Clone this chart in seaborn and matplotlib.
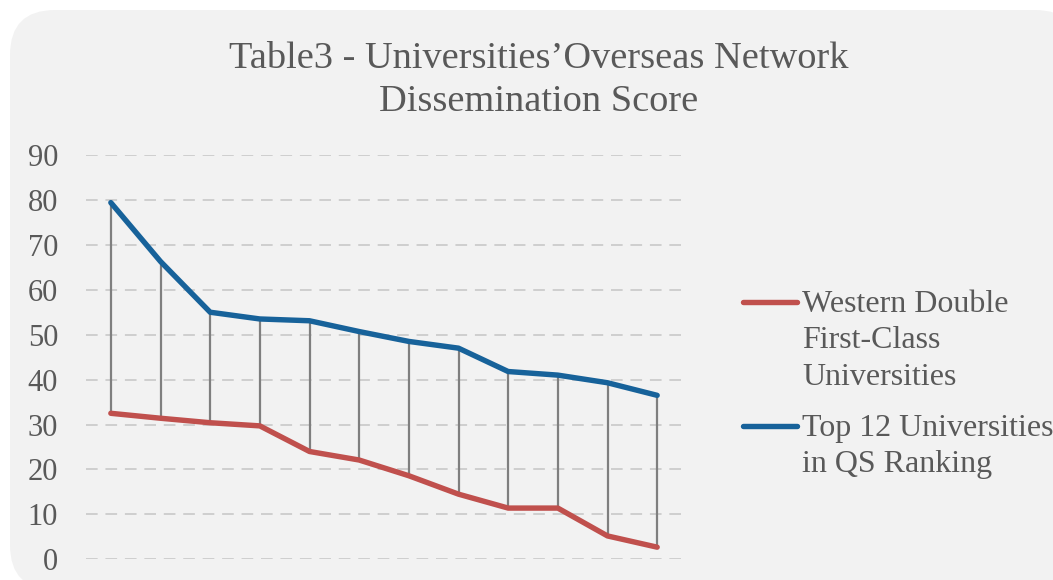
import numpy as np
import pandas as pd
import seaborn as sns
import matplotlib
matplotlib.use("Agg")
import matplotlib.pyplot as plt
from matplotlib.patches import FancyBboxPatch
from matplotlib.lines import Line2D
from matplotlib.transforms import IdentityTransform

# ---- data ----
ranks = list(range(1, 13))
western_double_first_class = [32.5, 31.4, 30.4, 29.7, 24.0, 22.1, 18.6, 14.5, 11.4, 11.4, 5.2, 2.7]
top12_qs = [79.4, 66.3, 55.0, 53.5, 53.1, 50.7, 48.5, 47.0, 41.8, 41.0, 39.3, 36.5]
series_names = ["Western Double\nFirst-Class\nUniversities", "Top 12 Universities\nin QS Ranking"]
y_ticks = [0, 10, 20, 30, 40, 50, 60, 70, 80, 90]
title = "Table3 - Universities\u2019Overseas Network\nDissemination Score"

RED = "#C0504D"
BLUE = "#17629A"
TXT = "#595959"

sns.set_theme(style="white")
plt.rcParams["font.family"] = ["Liberation Serif", "DejaVu Serif"]

W, H = 1053, 580
fig = plt.figure(figsize=(W / 100, H / 100), dpi=100)
fig.patch.set_facecolor("white")

bg = FancyBboxPatch((10, -10), 1070, 580, boxstyle="round,pad=0,rounding_size=45",
                    transform=IdentityTransform(), facecolor="#F2F2F2", edgecolor="none", zorder=-5)
fig.patches.append(bg)

ax = fig.add_axes([86 / W, 1 - 559.3 / H, (682 - 86) / W, (559.3 - 155) / H])
ax.set_facecolor("none")
ax.set_zorder(1)

df = pd.DataFrame({
    "pos": list(range(len(ranks))) * 2,
    "score": western_double_first_class + top12_qs,
    "series": [series_names[0]] * len(ranks) + [series_names[1]] * len(ranks),
})

# drop (high-low) lines
pos = np.arange(len(ranks))
ax.vlines(pos, western_double_first_class, top12_qs, color="#7F7F7F", linewidth=1.6, zorder=2)

sns.lineplot(data=df, x="pos", y="score", hue="series",
             palette={series_names[0]: RED, series_names[1]: BLUE},
             linewidth=3.9, legend=False, ax=ax, zorder=3,
             solid_capstyle="round", solid_joinstyle="round")

ax.set_xlim(-0.5, len(ranks) - 0.5)
ax.set_ylim(0, 90)
ax.set_yticks(y_ticks)
ax.set_yticklabels([str(t) for t in y_ticks], fontsize=22, color=TXT)
ax.set_xticks([])
ax.set_xlabel("")
ax.set_ylabel("")
ax.tick_params(axis="y", length=0, pad=20)
for s in ax.spines.values():
    s.set_visible(False)
ax.yaxis.grid(True, color="#CFCFCF", linestyle=(0, (6, 4)), linewidth=1.4, zorder=1)
ax.set_axisbelow(True)
for ln in ax.lines:
    ln.set_clip_on(False)

fig.text(539 / W, 1 - 80.5 / H, title, ha="center", va="center", fontsize=27.6,
         color=TXT, linespacing=1.33)

# legend
leg_entries = [(series_names[0], RED, 302), (series_names[1], BLUE, 426)]
for name, col, ypix in leg_entries:
    fig.add_artist(Line2D([743 / W, 797 / W], [1 - ypix / H, 1 - ypix / H], color=col,
                          linewidth=3.9, solid_capstyle="round", transform=fig.transFigure))
    fig.text(802 / W, 1 - (ypix - 12) / H, name, ha="left", va="top", fontsize=23,
             color=TXT, linespacing=1.33)

fig.savefig("out.png", dpi=100, facecolor="white")
